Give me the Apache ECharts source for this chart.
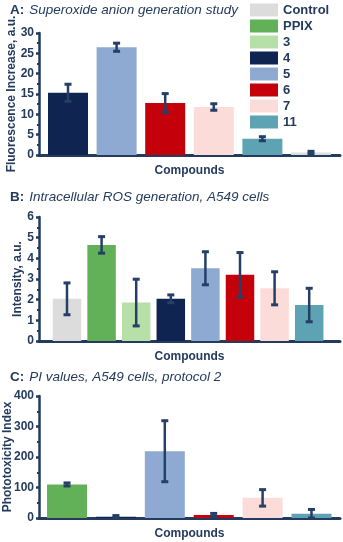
<!DOCTYPE html>
<html><head><meta charset="utf-8">
<script src="https://cdn.jsdelivr.net/npm/echarts@6/dist/echarts.min.js"></script>
<style>html,body{margin:0;padding:0;background:#fff}#c{width:343px;height:542px}</style>
</head><body><div id="c"></div>
<script>
// Legend / colours
const legendNames = ['Control','PPIX','3','4','5','6','7','11'];
const legendColors = ['#dcdcdc','#62b158','#b6e0a8','#0f2451','#8eaad3','#c4000a','#fcdcd9','#5da3b3'];

// Panel A: Superoxide anion generation study
const catsA = ['4','5','6','7','11','Control'];
const valsA = [15.3, 26.5, 12.8, 11.8, 4.0, 0.6];
const errA  = [2.1, 1.0, 2.3, 0.8, 0.5, 0.3];
const ticksA = [0,5,10,15,20,25,30];

// Panel B: Intracellular ROS generation, A549 cells
const catsB = ['Control','PPIX','3','4','5','6','7','11'];
const valsB = [2.04, 4.65, 1.86, 2.04, 3.52, 3.2, 2.55, 1.74];
const errB  = [0.77, 0.4, 1.13, 0.19, 0.8, 1.08, 0.8, 0.81];
const ticksB = [0,1,2,3,4,5,6];

// Panel C: PI values, A549 cells, protocol 2
const catsC = ['PPIX','4','5','6','7','11'];
const valsC = [110, 4, 219, 10, 66, 14];
const errC  = [5, 4, 100, 5, 27, 14];
const ticksC = [0,100,200,300,400];

const NAVY = '#243b5e';
const ERR = '#253f66';
const FONT = 'Liberation Sans, Arial, sans-serif';
const colorOf = n => legendColors[legendNames.indexOf(n)];

function xAxisFor(idx, min, max){
  return {type:'value', gridIndex:idx, min:min, max:max,
    name:'Compounds', nameLocation:'middle', nameGap:10, nameMoveOverlap:false,
    nameTextStyle:{color:NAVY, fontWeight:'bold', fontSize:12, fontFamily:FONT},
    axisLine:{show:true, onZero:false, lineStyle:{color:NAVY, width:3, cap:'round'}},
    axisTick:{show:false}, axisLabel:{show:false}, splitLine:{show:false}};
}
function yAxisFor(idx, ticks, name, gap){
  return {type:'value', gridIndex:idx, min:ticks[0], max:ticks[ticks.length-1],
    interval:ticks[1]-ticks[0],
    name:name, nameLocation:'middle', nameGap:gap, nameMoveOverlap:false,
    nameTextStyle:{color:NAVY, fontWeight:'bold', fontSize:12, fontFamily:FONT},
    axisLine:{show:true, onZero:false, lineStyle:{color:NAVY, width:2.5, cap:'round'}},
    axisTick:{show:true, length:3, lineStyle:{color:NAVY, width:2.5}},
    minorTick:{show:true, splitNumber:2, length:2, lineStyle:{color:NAVY, width:2}},
    axisLabel:{color:NAVY, fontWeight:'bold', fontSize:12, fontFamily:FONT, margin:5},
    splitLine:{show:false}};
}
function barSeries(idx, cats, vals, width){
  return {type:'bar', xAxisIndex:idx, yAxisIndex:idx, barWidth:width, z:2,
    data: cats.map((c,i)=>({value:[i, vals[i]], itemStyle:{color:colorOf(c)}})),
    animation:false};
}
function errSeries(idx, vals, errs, half){
  return {type:'custom', xAxisIndex:idx, yAxisIndex:idx, z:5, animation:false,
    data: vals.map((v,i)=>[i, Math.max(0, v-errs[i]), v+errs[i]]),
    renderItem:function(params, api){
      const x = api.value(0);
      const pHi = api.coord([x, api.value(2)]);
      const pLo = api.coord([x, api.value(1)]);
      const st = {stroke:ERR, lineWidth:2.5};
      return {type:'group', children:[
        {type:'line', shape:{x1:pHi[0], y1:pHi[1], x2:pLo[0], y2:pLo[1]}, style:st},
        {type:'line', shape:{x1:pHi[0]-half, y1:pHi[1], x2:pHi[0]+half, y2:pHi[1]}, style:{stroke:ERR, lineWidth:3}},
        {type:'line', shape:{x1:pLo[0]-half, y1:pLo[1], x2:pLo[0]+half, y2:pLo[1]}, style:{stroke:ERR, lineWidth:3}}
      ]};
    }};
}
function titleFor(letter, text, top){
  return {left:10, top:top, padding:0, text:'{b|'+letter+':} {i|'+text+'}',
    textStyle:{rich:{
      b:{fontWeight:'bold', fontSize:13.5, color:NAVY, fontFamily:FONT},
      i:{fontStyle:'italic', fontWeight:'normal', fontSize:13.5, color:NAVY, fontFamily:FONT}}}};
}

const chart = echarts.init(document.getElementById('c'), null, {renderer:'canvas'});
chart.setOption({
  animation:false,
  backgroundColor:'#fff',
  title:[
    titleFor('A','Superoxide anion generation study',1),
    titleFor('B','Intracellular ROS generation, A549 cells',188),
    titleFor('C','PI values, A549 cells, protocol 2',368)
  ],
  legend:{orient:'vertical', left:250, top:3.5, padding:0, itemWidth:28, itemHeight:13, itemGap:3,
    data: legendNames.map(n=>({name:n, icon:'rect'})),
    textStyle:{color:NAVY, fontWeight:'bold', fontSize:13, fontFamily:FONT, lineHeight:13},
    selectedMode:false},
  grid:[
    {left:39, width:301, top:33, height:122, containLabel:false, outerBoundsMode:'none'},
    {left:39, width:301, top:217, height:124, containLabel:false, outerBoundsMode:'none'},
    {left:39, width:301, top:396, height:122, containLabel:false, outerBoundsMode:'none'}
  ],
  xAxis:[
    xAxisFor(0, -0.597, 5.597),
    xAxisFor(1, -0.809, 7.89),
    xAxisFor(2, -0.573, 5.583)
  ],
  yAxis:[
    yAxisFor(0, ticksA, 'Fluorescence Increase, a.u.', 21),
    yAxisFor(1, ticksB, 'Intensity, a.u.', 15),
    yAxisFor(2, ticksC, 'Phototoxicity Index', 25.5)
  ],
  series:[
    ...legendNames.map(n=>({type:'line', name:n, data:[], xAxisIndex:0, yAxisIndex:0,
      itemStyle:{color:colorOf(n)}, lineStyle:{color:colorOf(n)}})),
    barSeries(0, catsA, valsA, 40),
    errSeries(0, valsA, errA, 3.5),
    barSeries(1, catsB, valsB, 28.5),
    errSeries(1, valsB, errB, 3.5),
    barSeries(2, catsC, valsC, 40),
    errSeries(2, valsC, errC, 3.5)
  ]
});
</script></body></html>
